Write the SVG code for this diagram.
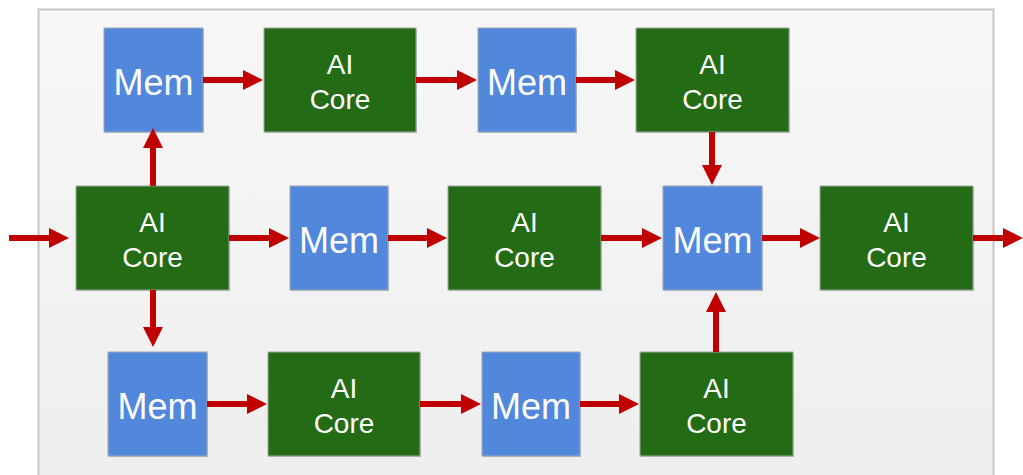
<svg xmlns="http://www.w3.org/2000/svg" width="1023" height="475" viewBox="0 0 1023 475">
<style>
.mem rect.b{fill:#5288dc;stroke:#9fa8b4;stroke-width:1}
.core rect.b{fill:#246b15;stroke:#9fa8a0;stroke-width:1}
rect.s{fill:#3a4a60;opacity:0.35}
text{font-family:"Liberation Sans",Arial,sans-serif;fill:#ffffff;text-anchor:middle}
.mem text{font-size:36px}
.core text{font-size:28px}
.conn path{stroke:#c00000;stroke-width:6;fill:none;marker-end:url(#ah)}
</style>
<defs>
<linearGradient id="bg" x1="0" y1="0" x2="0" y2="1">
<stop offset="0" stop-color="#f7f7f7"/>
<stop offset="1" stop-color="#eeeeee"/>
</linearGradient>
<marker id="ah" markerUnits="userSpaceOnUse" markerWidth="20" markerHeight="20" viewBox="0 0 20 20" refX="10" refY="10" orient="auto">
<path d="M0,0 L20,10 L0,20 z" fill="#c00000"/>
</marker>
</defs>
<rect x="38.5" y="9.5" width="955" height="480" fill="url(#bg)" stroke="#c6c6c6" stroke-width="2"/>

<g id="mem-t1" class="mem"><rect class="s" x="105" y="29" width="99" height="104"/><rect class="b" x="104" y="28" width="99" height="104"/><text x="153.5" y="95">Mem</text></g>
<g id="core-t1" class="core"><rect class="s" x="265" y="29" width="152" height="104"/><rect class="b" x="264" y="28" width="152" height="104"/><text x="340" y="74">AI</text><text x="340" y="109">Core</text></g>
<g id="mem-t2" class="mem"><rect class="s" x="479" y="29" width="98" height="104"/><rect class="b" x="478" y="28" width="98" height="104"/><text x="527" y="95">Mem</text></g>
<g id="core-t2" class="core"><rect class="s" x="637" y="29" width="153" height="104"/><rect class="b" x="636" y="28" width="153" height="104"/><text x="712.5" y="74">AI</text><text x="712.5" y="109">Core</text></g>

<g id="core-m1" class="core"><rect class="s" x="77" y="187" width="153" height="104"/><rect class="b" x="76" y="186" width="153" height="104"/><text x="152.5" y="232">AI</text><text x="152.5" y="267">Core</text></g>
<g id="mem-m1" class="mem"><rect class="s" x="291" y="187" width="98" height="104"/><rect class="b" x="290" y="186" width="98" height="104"/><text x="339" y="253">Mem</text></g>
<g id="core-m2" class="core"><rect class="s" x="449" y="187" width="153" height="104"/><rect class="b" x="448" y="186" width="153" height="104"/><text x="524.5" y="232">AI</text><text x="524.5" y="267">Core</text></g>
<g id="mem-m2" class="mem"><rect class="s" x="664" y="187" width="99" height="104"/><rect class="b" x="663" y="186" width="99" height="104"/><text x="712.5" y="253">Mem</text></g>
<g id="core-m3" class="core"><rect class="s" x="821" y="187" width="153" height="104"/><rect class="b" x="820" y="186" width="153" height="104"/><text x="896.5" y="232">AI</text><text x="896.5" y="267">Core</text></g>

<g id="mem-b1" class="mem"><rect class="s" x="109" y="353" width="99" height="104"/><rect class="b" x="108" y="352" width="99" height="104"/><text x="157.5" y="419">Mem</text></g>
<g id="core-b1" class="core"><rect class="s" x="269" y="353" width="152" height="104"/><rect class="b" x="268" y="352" width="152" height="104"/><text x="344" y="398">AI</text><text x="344" y="433">Core</text></g>
<g id="mem-b2" class="mem"><rect class="s" x="483" y="353" width="98" height="104"/><rect class="b" x="482" y="352" width="98" height="104"/><text x="531" y="419">Mem</text></g>
<g id="core-b2" class="core"><rect class="s" x="641" y="353" width="153" height="104"/><rect class="b" x="640" y="352" width="153" height="104"/><text x="716.5" y="398">AI</text><text x="716.5" y="433">Core</text></g>

<g id="connectors" class="conn">
<path d="M203,80 H253"/>
<path d="M416,80 H467"/>
<path d="M576,80 H625"/>
<path d="M712,132 V175"/>
<path d="M9,238 H59"/>
<path d="M229,238 H279"/>
<path d="M388,238 H437"/>
<path d="M601,238 H652"/>
<path d="M762,238 H810"/>
<path d="M973,238 H1013"/>
<path d="M153,186 V138"/>
<path d="M153,290 V337"/>
<path d="M207,404 H257"/>
<path d="M420,404 H471"/>
<path d="M580,404 H629"/>
<path d="M716,352 V302"/>
</g>
</svg>
